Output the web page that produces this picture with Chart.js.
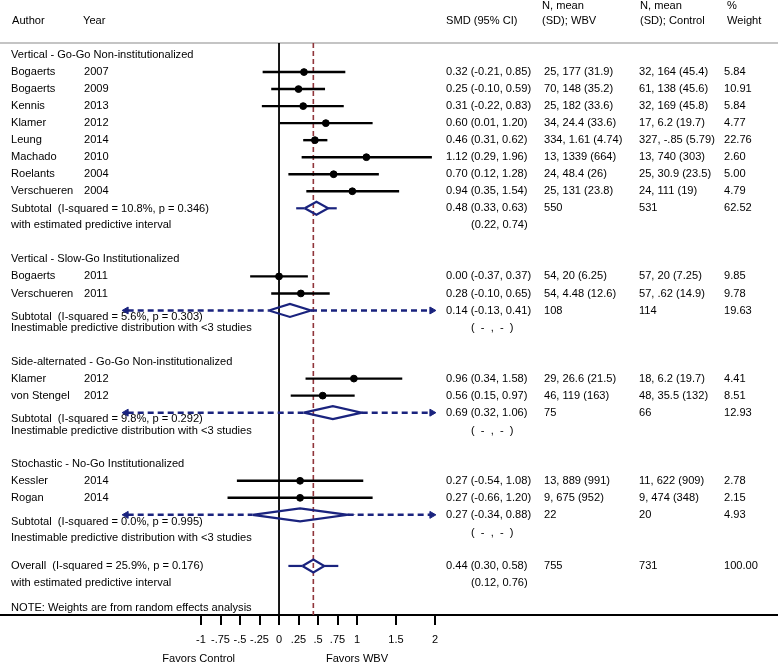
<!DOCTYPE html>
<html>
<head>
<meta charset="utf-8">
<script src="https://cdn.jsdelivr.net/npm/chart.js@4.4.0/dist/chart.umd.min.js"></script>
<style>
  html, body { margin: 0; padding: 0; background: #fff; }
  #wrap { width: 778px; height: 664px; }
</style>
</head>
<body>
<div id="wrap"><canvas id="forest"></canvas></div>
<script>
// groups
const groupNames = [
  'Vertical - Go-Go Non-institutionalized',
  'Vertical - Slow-Go Institutionalized',
  'Side-alternated - Go-Go Non-institutionalized',
  'Stochastic - No-Go Institutionalized'
];
const groupStats = [
  'Subtotal  (I-squared = 10.8%, p = 0.346)',
  'Subtotal  (I-squared = 5.6%, p = 0.303)',
  'Subtotal  (I-squared = 9.8%, p = 0.292)',
  'Subtotal  (I-squared = 0.0%, p = 0.995)'
];

// studies
const authors = ['Bogaerts', 'Bogaerts', 'Kennis', 'Klamer', 'Leung', 'Machado', 'Roelants', 'Verschueren',
  'Bogaerts', 'Verschueren', 'Klamer', 'von Stengel', 'Kessler', 'Rogan'];
const years = ['2007', '2009', '2013', '2012', '2014', '2010', '2004', '2004', '2011', '2011', '2012', '2012', '2014', '2014'];
const studyGroup = [0, 0, 0, 0, 0, 0, 0, 0, 1, 1, 2, 2, 3, 3];
const smd = [0.32, 0.25, 0.31, 0.60, 0.46, 1.12, 0.70, 0.94, 0.00, 0.28, 0.96, 0.56, 0.27, 0.27];
const ciLow = [-0.21, -0.10, -0.22, 0.01, 0.31, 0.29, 0.12, 0.35, -0.37, -0.10, 0.34, 0.15, -0.54, -0.66];
const ciHigh = [0.85, 0.59, 0.83, 1.20, 0.62, 1.96, 1.28, 1.54, 0.37, 0.65, 1.58, 0.97, 1.08, 1.20];
const wbvText = ['25, 177 (31.9)', '70, 148 (35.2)', '25, 182 (33.6)', '34, 24.4 (33.6)', '334, 1.61 (4.74)',
  '13, 1339 (664)', '24, 48.4 (26)', '25, 131 (23.8)', '54, 20 (6.25)', '54, 4.48 (12.6)',
  '29, 26.6 (21.5)', '46, 119 (163)', '13, 889 (991)', '9, 675 (952)'];
const ctrlText = ['32, 164 (45.4)', '61, 138 (45.6)', '32, 169 (45.8)', '17, 6.2 (19.7)', '327, -.85 (5.79)',
  '13, 740 (303)', '25, 30.9 (23.5)', '24, 111 (19)', '57, 20 (7.25)', '57, .62 (14.9)',
  '18, 6.2 (19.7)', '48, 35.5 (132)', '11, 622 (909)', '9, 474 (348)'];
const weights = [5.84, 10.91, 5.84, 4.77, 22.76, 2.60, 5.00, 4.79, 9.85, 9.78, 4.41, 8.51, 2.78, 2.15];

// subtotals
const subSmd = [0.48, 0.14, 0.69, 0.27];
const subLow = [0.33, -0.13, 0.32, -0.34];
const subHigh = [0.63, 0.41, 1.06, 0.88];
const subPredLow = [0.22, null, null, null];
const subPredHigh = [0.74, null, null, null];
const subNWbv = [550, 108, 75, 22];
const subNCtrl = [531, 114, 66, 20];
const subWeight = [62.52, 19.63, 12.93, 4.93];

// overall
const overallStats = 'Overall  (I-squared = 25.9%, p = 0.176)';
const overallSmd = 0.44, overallLow = 0.30, overallHigh = 0.58;
const overallPredLow = 0.12, overallPredHigh = 0.76;
const overallNWbv = 755, overallNCtrl = 731, overallWeight = 100.00;
const noteText = 'NOTE: Weights are from random effects analysis';

// axis
const tickValues = [-1, -0.75, -0.5, -0.25, 0, 0.25, 0.5, 0.75, 1, 1.5, 2];
const tickLabels = ['-1', '-.75', '-.5', '-.25', '0', '.25', '.5', '.75', '1', '1.5', '2'];
const axisLimit = 2; // open-ended predictive intervals run to here

const NAVY = '#1a237e';
const MAROON = '#90353b';
const FONT = '11.1px "Liberation Sans", Arial, Helvetica, sans-serif';

// row layout
const headerRow = [], studyRow = [], subRow = [];
let r = 0;
groupNames.forEach((g, gi) => {
  headerRow[gi] = r++;
  studyGroup.forEach((sg, i) => { if (sg === gi) studyRow[i] = r++; });
  subRow[gi] = r;
  r += 3;
});
const overallRow = r;
const yTop = -0.705, yBottom = 32.88;

const fmtCI = (e, l, h) => e.toFixed(2) + ' (' + l.toFixed(2) + ', ' + h.toFixed(2) + ')';

const datasets = [];

// study CI lines
smd.forEach((v, i) => {
  datasets.push({
    type: 'line',
    data: [{ x: ciLow[i], y: studyRow[i] }, { x: ciHigh[i], y: studyRow[i] }],
    borderColor: '#000', borderWidth: 2.4, pointRadius: 0, order: 2
  });
});
// study point estimates
datasets.push({
  type: 'scatter',
  data: smd.map((v, i) => ({ x: v, y: studyRow[i] })),
  backgroundColor: '#000', borderColor: '#000', pointRadius: 3.4, pointStyle: 'circle', order: 1
});

function diamond(e, l, h, row) {
  const hh = 0.38;
  return {
    type: 'line',
    data: [{ x: l, y: row }, { x: e, y: row - hh }, { x: h, y: row }, { x: e, y: row + hh }, { x: l, y: row }],
    borderColor: NAVY, borderWidth: 2.2, pointRadius: 0, fill: false, order: 1
  };
}
function predLine(a, b, row, dashed) {
  return {
    type: 'line',
    data: [{ x: a, y: row }, { x: b, y: row }],
    borderColor: NAVY, borderWidth: dashed ? 2.5 : 2.2, borderDash: dashed ? [6, 4] : [],
    pointRadius: 0, order: 3
  };
}

const arrowPts = [];
subSmd.forEach((e, gi) => {
  const row = subRow[gi];
  datasets.push(diamond(e, subLow[gi], subHigh[gi], row));
  if (subPredLow[gi] !== null) {
    datasets.push(predLine(subPredLow[gi], subLow[gi], row, false));
    datasets.push(predLine(subHigh[gi], subPredHigh[gi], row, false));
  } else {
    datasets.push(predLine(-axisLimit + 0.06, subLow[gi], row, true));
    datasets.push(predLine(subHigh[gi], axisLimit - 0.06, row, true));
    arrowPts.push({ x: -axisLimit + 0.04, y: row }, { x: axisLimit - 0.04, y: row });
  }
});
datasets.push({
  type: 'scatter',
  data: arrowPts,
  pointStyle: 'triangle', pointRadius: 4,
  pointRotation: ctx => (ctx.raw && ctx.raw.x < 0 ? -90 : 90),
  backgroundColor: NAVY, borderColor: NAVY, borderWidth: 1, order: 1
});

// overall
datasets.push(diamond(overallSmd, overallLow, overallHigh, overallRow));
datasets.push(predLine(overallPredLow, overallLow, overallRow, false));
datasets.push(predLine(overallHigh, overallPredHigh, overallRow, false));

// reference lines
datasets.push({
  type: 'line',
  data: [{ x: overallSmd, y: yTop }, { x: overallSmd, y: yBottom }],
  borderColor: MAROON, borderWidth: 1.6, borderDash: [5, 3], pointRadius: 0, order: 5
});
datasets.push({
  type: 'line',
  data: [{ x: 0, y: yTop }, { x: 0, y: yBottom }],
  borderColor: '#000', borderWidth: 1.8, pointRadius: 0, order: 6
});

const textPlugin = {
  id: 'forestText',
  beforeDatasetsDraw(chart) {
    const { ctx, chartArea, scales: { x, y } } = chart;
    ctx.save();
    // grey rule under header
    ctx.strokeStyle = '#c4c4c4';
    ctx.lineWidth = 2;
    ctx.beginPath();
    ctx.moveTo(0, chartArea.top);
    ctx.lineTo(chart.width, chartArea.top);
    ctx.stroke();

    ctx.font = FONT;
    ctx.fillStyle = '#000';
    ctx.textBaseline = 'middle';
    ctx.textAlign = 'left';
    const put = (t, px, row) => ctx.fillText(t, px, y.getPixelForValue(row));

    // header
    put('Author', 12, -2);
    put('Year', 83, -2);
    put('SMD (95% CI)', 446, -2);
    put('N, mean', 542, -2.88);
    put('(SD); WBV', 542, -2);
    put('N, mean', 640, -2.88);
    put('(SD); Control', 640, -2);
    put('%', 727, -2.88);
    put('Weight', 727, -2);

    groupNames.forEach((g, gi) => put(g, 11, headerRow[gi]));
    authors.forEach((a, i) => {
      const row = studyRow[i];
      put(a, 11, row);
      put(years[i], 84, row);
      put(fmtCI(smd[i], ciLow[i], ciHigh[i]), 446, row);
      put(wbvText[i], 544, row);
      put(ctrlText[i], 639, row);
      put(weights[i].toFixed(2), 724, row);
    });

    subSmd.forEach((e, gi) => {
      const row = subRow[gi];
      put(fmtCI(e, subLow[gi], subHigh[gi]), 446, row);
      put(String(subNWbv[gi]), 544, row);
      put(String(subNCtrl[gi]), 639, row);
      put(subWeight[gi].toFixed(2), 724, row);
      if (subPredLow[gi] !== null) {
        put(groupStats[gi], 11, row + 0.05);
        put('with estimated predictive interval', 11, row + 1);
        put('(' + subPredLow[gi].toFixed(2) + ', ' + subPredHigh[gi].toFixed(2) + ')', 471, row + 1);
      } else {
        const last = gi === groupNames.length - 1;
        put(groupStats[gi], 11, row + (last ? 0.4 : 0.35));
        put('Inestimable predictive distribution with <3 studies', 11, row + (last ? 1.35 : 1.05));
        put('(  -  ,  -  )', 471, row + 1.05);
      }
    });

    put(overallStats, 11, overallRow);
    put('with estimated predictive interval', 11, overallRow + 1);
    put(fmtCI(overallSmd, overallLow, overallHigh), 446, overallRow);
    put('(' + overallPredLow.toFixed(2) + ', ' + overallPredHigh.toFixed(2) + ')', 471, overallRow + 1);
    put(String(overallNWbv), 544, overallRow);
    put(String(overallNCtrl), 639, overallRow);
    put(overallWeight.toFixed(2), 724, overallRow);
    put(noteText, 11, overallRow + 2.45);

    // favours labels under the axis
    ctx.textAlign = 'center';
    ctx.fillText('Favors Control', x.getPixelForValue(-1.03), 659);
    ctx.fillText('Favors WBV', x.getPixelForValue(1.0), 659);
    ctx.restore();
  }
};

new Chart(document.getElementById('forest'), {
  type: 'scatter',
  data: { datasets: datasets },
  options: {
    responsive: true,
    maintainAspectRatio: false,
    animation: false,
    layout: { autoPadding: false, padding: { top: 43, left: 0, right: 0, bottom: 0 } },
    plugins: { legend: { display: false }, tooltip: { enabled: false } },
    scales: {
      x: {
        type: 'linear',
        min: -3.577,
        max: 6.397,
        afterBuildTicks: s => { s.ticks = tickValues.map(v => ({ value: v })); },
        afterFit: s => { s.height = 49; },
        ticks: {
          autoSkip: false, maxRotation: 0, padding: 8,
          color: '#000', font: { family: '"Liberation Sans", Arial, sans-serif', size: 11 },
          callback: (v, i) => tickLabels[i]
        },
        grid: { display: true, drawOnChartArea: false, drawTicks: true, tickLength: 10, color: '#000', lineWidth: 2 },
        border: { display: true, color: '#000', width: 2 }
      },
      y: {
        type: 'linear',
        display: false,
        reverse: true,
        min: yTop,
        max: yBottom
      }
    }
  },
  plugins: [textPlugin]
});
</script>
</body>
</html>
